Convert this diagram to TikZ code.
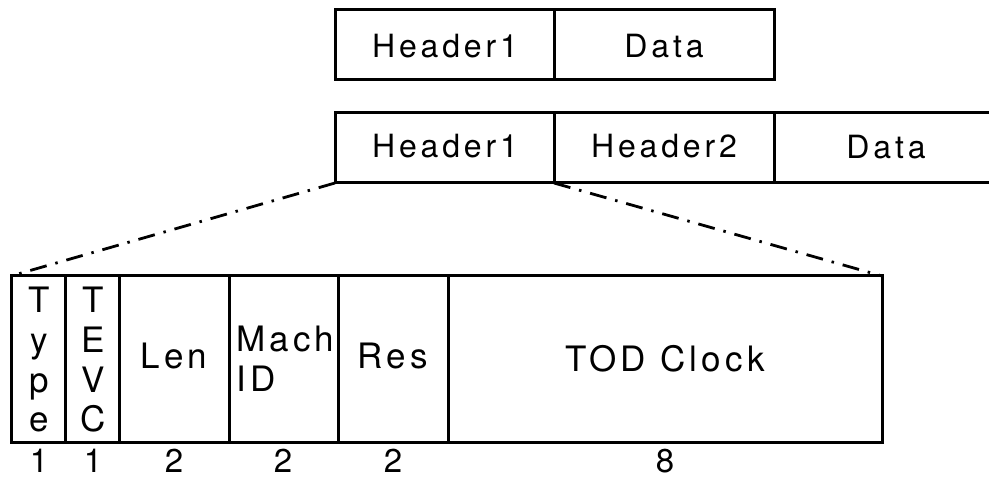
\documentclass[tikz,border=0pt]{standalone}
\usepackage{fontspec}
\setmainfont{TeX Gyre Heros}[LetterSpace=12]
\begin{document}
\begin{tikzpicture}[x=1pt,y=-1pt,
  fld/.style={draw, line width=3pt, rectangle, inner sep=0pt, outer sep=0pt},
  openfld/.style={rectangle, inner sep=0pt, outer sep=0pt},
  edge/.style={line width=3pt},
  zoomline/.style={line width=2.8pt, dash pattern=on 17pt off 9pt on 2.5pt off 9pt},
  hdrtxt/.style={anchor=base, inner sep=0pt, font=\fontsize{32}{32}\selectfont},
  fldtxt/.style={anchor=base, inner sep=0pt, font=\fontsize{35}{35}\selectfont},
  numtxt/.style={anchor=base, inner sep=0pt, font=\fontsize{33}{33}\selectfont}]
\useasboundingbox (0,0) rectangle (989,478);

% a field: name, left, top, right, bottom
\newcommand\fieldbox[6]{%
  \node[#1, minimum width={(#5-#3)*1pt}, minimum height={(#6-#4)*1pt}]
    (#2) at ({(#3+#5)/2},{(#4+#6)/2}) {};}

% frame with one header
\fieldbox{fld}{hA}{335}{10}{554}{80}
\fieldbox{fld}{dA}{554}{10}{774}{80}
\node[hdrtxt] (thA) at (445,58) {Header1};
\node[hdrtxt] (tdA) at (664,58) {Data};

% frame with two headers, data part left open at the right
\fieldbox{fld}{hB}{335}{113}{554}{183}
\fieldbox{fld}{hC}{554}{113}{774}{183}
\fieldbox{openfld}{dB}{774}{113}{989}{183}
\draw[edge] (dB.north west) -- (dB.north east);
\draw[edge] (dB.south west) -- (dB.south east);
\node[hdrtxt] (thB) at (445,158) {Header1};
\node[hdrtxt] (thC) at (664,158) {Header2};
\node[hdrtxt] (tdB) at (886,159) {Data};

% layout of Header1
\fieldbox{fld}{fType}{11}{276}{65}{443}
\fieldbox{fld}{fTevc}{65}{276}{119}{443}
\fieldbox{fld}{fLen}{119}{276}{229}{443}
\fieldbox{fld}{fMach}{229}{276}{338}{443}
\fieldbox{fld}{fRes}{338}{276}{448}{443}
\fieldbox{fld}{fTod}{448}{276}{882}{443}

% expansion lines
\draw[zoomline] (hB.south west) -- (fType.north west);
\draw[zoomline] (hB.south east) -- (fTod.north east);

% field names
\node[fldtxt] (tT1) at (39,313) {T};
\node[fldtxt] (tT2) at (39,353) {y};
\node[fldtxt] (tT3) at (39,393) {p};
\node[fldtxt] (tT4) at (39,432) {e};
\node[fldtxt] (tE1) at (93,313) {T};
\node[fldtxt] (tE2) at (93,353) {E};
\node[fldtxt] (tE3) at (93,393) {V};
\node[fldtxt] (tE4) at (93,432) {C};
\node[fldtxt] (tLen) at (174,369) {Len};
\node[fldtxt, anchor=base west] (tMach) at (236,352) {Mach};
\node[fldtxt, anchor=base west] (tId) at (236,392) {ID};
\node[fldtxt] (tRes) at (393,369) {Res};
\node[fldtxt] (tTod) at (665,372) {TOD Clock};

% field lengths
\node[numtxt] (n1) at (39,472) {1};
\node[numtxt] (n2) at (93,472) {1};
\node[numtxt] (n3) at (174,472) {2};
\node[numtxt] (n4) at (283,472) {2};
\node[numtxt] (n5) at (393,472) {2};
\node[numtxt] (n6) at (665,472) {8};
\end{tikzpicture}
\end{document}
